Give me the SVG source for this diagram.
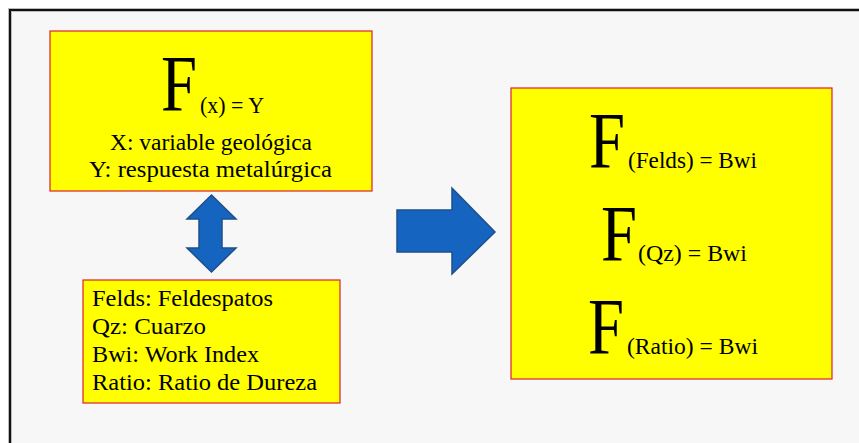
<svg xmlns="http://www.w3.org/2000/svg" width="859" height="443" viewBox="0 0 859 443">
<style>
.box{fill:#ffff00;stroke:#e0202a;stroke-width:1.2}
.t{font-family:"Liberation Serif","Times New Roman",serif;fill:#000}
.big{font-size:80px}
.sub{font-size:23px}
.arr{fill:#1565c0;stroke:#1d4f8c;stroke-width:1.5;stroke-linejoin:miter}
</style>
<rect x="0" y="0" width="859" height="443" fill="#ffffff"/>
<rect x="10" y="10" width="900" height="500" fill="#f7f7f7" stroke="#bbbbbb" stroke-width="4"/>
<rect x="10" y="10" width="900" height="500" fill="none" stroke="#111111" stroke-width="2"/>
<g id="formula-general">
<rect class="box" x="50" y="31" width="322" height="160"/>
<text class="t big" x="161" y="111" textLength="36" lengthAdjust="spacingAndGlyphs">F</text>
<text class="t sub" x="200" y="113" textLength="64" lengthAdjust="spacingAndGlyphs">(x) = Y</text>
<text class="t sub" x="110" y="150" textLength="202" lengthAdjust="spacingAndGlyphs">X: variable geológica</text>
<text class="t sub" x="89" y="177" textLength="243" lengthAdjust="spacingAndGlyphs">Y: respuesta metalúrgica</text>
</g>
<g id="leyenda">
<rect class="box" x="83" y="280" width="257" height="123"/>
<text class="t sub" x="92" y="306" textLength="181" lengthAdjust="spacingAndGlyphs">Felds: Feldespatos</text>
<text class="t sub" x="92" y="334" textLength="114" lengthAdjust="spacingAndGlyphs">Qz: Cuarzo</text>
<text class="t sub" x="92" y="362" textLength="167" lengthAdjust="spacingAndGlyphs">Bwi: Work Index</text>
<text class="t sub" x="92" y="390" textLength="225" lengthAdjust="spacingAndGlyphs">Ratio: Ratio de Dureza</text>
</g>
<g id="formulas-especificas">
<rect class="box" x="511" y="88" width="321" height="291"/>
<text class="t big" x="589" y="168" font-size="78" textLength="36" lengthAdjust="spacingAndGlyphs">F</text>
<text class="t" x="628" y="168" font-size="23" textLength="129" lengthAdjust="spacingAndGlyphs">(Felds) = Bwi</text>
<text class="t big" x="601" y="261" font-size="78" textLength="36" lengthAdjust="spacingAndGlyphs">F</text>
<text class="t" x="638" y="261" font-size="23" textLength="109" lengthAdjust="spacingAndGlyphs">(Qz) = Bwi</text>
<text class="t big" x="588" y="354" font-size="78" textLength="36" lengthAdjust="spacingAndGlyphs">F</text>
<text class="t" x="627" y="354" font-size="23" textLength="131" lengthAdjust="spacingAndGlyphs">(Ratio) = Bwi</text>
</g>
<g id="connectors">
<polygon class="arr" points="211.5,195 236,219 222,219 222,248 236,248 211.5,272 187,248 199,248 199,219 187,219"/>
<polygon class="arr" points="397,210 452,210 452,188 495,232 452,274 452,252 397,252"/>
</g>
</svg>
